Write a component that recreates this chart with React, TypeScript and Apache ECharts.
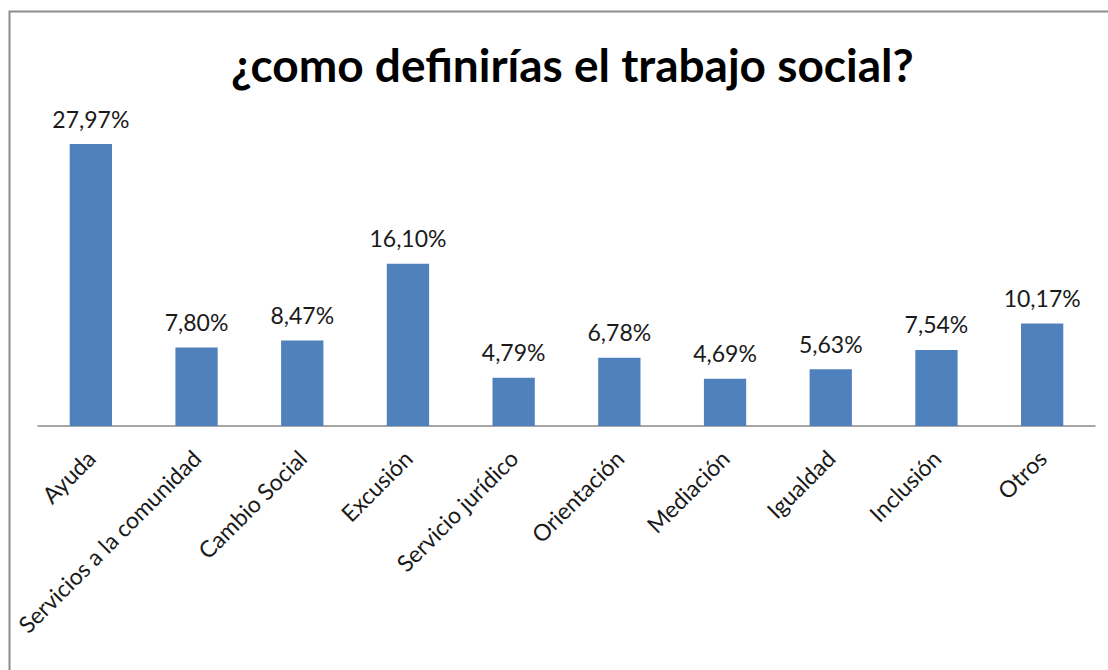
import React, { useEffect, useRef } from "react";
import * as echarts from "echarts";

const categories = [
  "Ayuda",
  "Servicios a la comunidad",
  "Cambio Social",
  "Excusión",
  "Servicio jurídico",
  "Orientación",
  "Mediación",
  "Igualdad",
  "Inclusión",
  "Otros",
];
const values = [27.97, 7.8, 8.47, 16.1, 4.79, 6.78, 4.69, 5.63, 7.54, 10.17];
const titleText = "¿como definirías el trabajo social?";

export default function App() {
  const ref = useRef<HTMLDivElement>(null);
  useEffect(() => {
    const chart = echarts.init(ref.current!, null, { renderer: "svg" });
    chart.setOption({
      animation: false,
      backgroundColor: "#ffffff",
      title: {
        text: titleText,
        left: 226,
        top: 36,
        textStyle: {
          fontFamily: "Lato",
          fontWeight: "bold",
          fontSize: 46,
          color: "#000000",
        },
      },
      graphic: [
        {
          type: "rect",
          shape: { x: 9.5, y: 11.5, width: 1200, height: 800 },
          style: { fill: "none", stroke: "#8c8c8c", lineWidth: 2 },
          silent: true,
        },
      ],
      grid: { left: 38, right: 13, top: 123.6, bottom: 244 },
      xAxis: {
        type: "category",
        data: categories,
        axisLine: { lineStyle: { color: "#898989", width: 1.5 } },
        axisTick: { show: false },
        axisLabel: {
          rotate: 45,
          interval: 0,
          margin: 28,
          fontFamily: "Lato",
          fontSize: 23,
          color: "#1a1a1a",
        },
      },
      yAxis: {
        type: "value",
        min: 0,
        max: 30,
        show: false,
        splitLine: { show: false },
      },
      series: [
        {
          type: "bar",
          data: values,
          barWidth: "40%",
          itemStyle: { color: "#4f81bd" },
          label: {
            show: true,
            position: "top",
            distance: 14,
            fontFamily: "Lato",
            fontSize: 23,
            color: "#1a1a1a",
            formatter: (p: any) => p.value.toFixed(2).replace(".", ",") + "%",
          },
        },
      ],
    });
    return () => chart.dispose();
  }, []);
  return (
    <div
      ref={ref}
      style={{ position: "absolute", left: 0, top: 0, width: 1108, height: 670 }}
    />
  );
}
